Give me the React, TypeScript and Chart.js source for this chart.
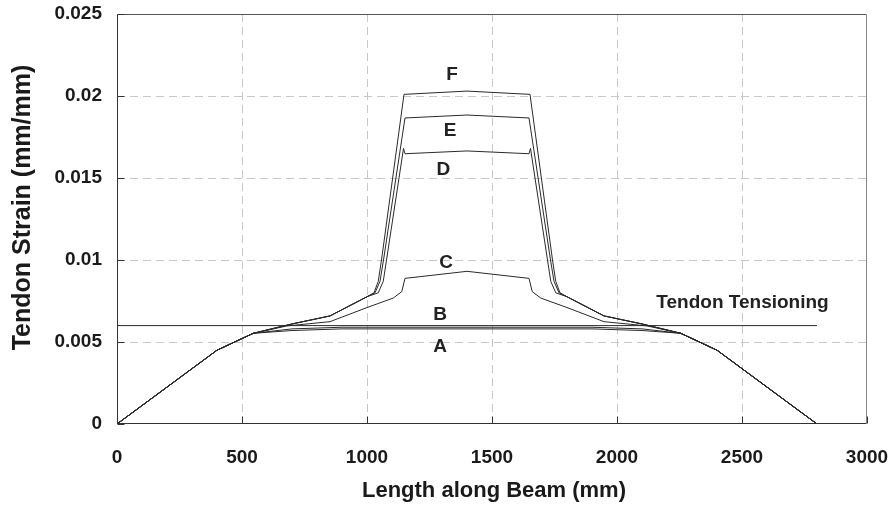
import React, { useEffect, useRef } from 'react';
import { Chart, registerables } from 'chart.js';

Chart.register(...registerables);

// ---- axis ticks ----
const xTickValues = [0, 500, 1000, 1500, 2000, 2500, 3000];
const yTickValues = [0, 0.005, 0.01, 0.015, 0.02, 0.025];

// ---- curves (x: mm along beam, y: strain) ----
const curveAx = [0, 400, 545, 700, 900, 1400, 1900, 2100, 2255, 2400, 2800];
const curveAy = [0, 0.0045, 0.00553, 0.0057, 0.0058, 0.0058, 0.0058, 0.0057, 0.00553, 0.0045, 0];

const curveBx = [0, 400, 545, 700, 900, 1400, 1900, 2100, 2255, 2400, 2800];
const curveBy = [0, 0.0045, 0.00553, 0.0058, 0.0059, 0.0059, 0.0059, 0.0058, 0.00553, 0.0045, 0];

const curveCx = [0, 400, 545, 680, 852, 1000, 1105, 1139, 1152, 1400, 1648, 1661, 1695, 1800, 1948, 2120, 2255, 2400, 2800];
const curveCy = [0, 0.0045, 0.00553, 0.00598, 0.00624, 0.0071, 0.00768, 0.00807, 0.00888, 0.00931, 0.00888, 0.00807, 0.00768, 0.0071, 0.00624, 0.00598, 0.00553, 0.0045, 0];

const curveDx = [0, 400, 545, 700, 852, 1000, 1045, 1065, 1078, 1146, 1152, 1400, 1648, 1654, 1722, 1735, 1755, 1800, 1948, 2100, 2255, 2400, 2800];
const curveDy = [0, 0.0045, 0.00553, 0.0061, 0.00659, 0.00776, 0.0080, 0.0087, 0.0100, 0.0168, 0.01648, 0.01665, 0.01648, 0.0168, 0.0100, 0.0087, 0.0080, 0.00776, 0.00659, 0.0061, 0.00553, 0.0045, 0];

const curveEx = [0, 400, 545, 700, 852, 1000, 1032, 1052, 1066, 1152, 1400, 1648, 1734, 1748, 1768, 1800, 1948, 2100, 2255, 2400, 2800];
const curveEy = [0, 0.0045, 0.00553, 0.0061, 0.00659, 0.00776, 0.0080, 0.0087, 0.0100, 0.01866, 0.01884, 0.01866, 0.0100, 0.0087, 0.0080, 0.00776, 0.00659, 0.0061, 0.00553, 0.0045, 0];

const curveFx = [0, 400, 545, 700, 852, 1000, 1028, 1045, 1058, 1148, 1400, 1652, 1742, 1755, 1772, 1800, 1948, 2100, 2255, 2400, 2800];
const curveFy = [0, 0.0045, 0.00553, 0.0061, 0.00659, 0.00776, 0.0080, 0.0087, 0.0100, 0.0201, 0.0203, 0.0201, 0.0100, 0.0087, 0.0080, 0.00776, 0.00659, 0.0061, 0.00553, 0.0045, 0];

const tendonX = [0, 2800];
const tendonY = [0.006, 0.006];

// ---- curve annotations ----
const labelTexts = ['F', 'E', 'D', 'C', 'B', 'A', 'Tendon Tensioning'];
const labelX = [1340, 1332, 1305, 1316, 1292, 1292, 2502];
const labelY = [0.02128, 0.01787, 0.01553, 0.00986, 0.00665, 0.0047, 0.0074];

const xTitle = 'Length along Beam (mm)';
const yTitle = 'Tendon Strain (mm/mm)';

const FONT = '"Liberation Sans", Arial, sans-serif';

const toPoints = (xs: number[], ys: number[]) => xs.map((v, i) => ({ x: v, y: ys[i] }));

const zeroPad = (s: any) => {
  s.paddingTop = 0;
  s.paddingBottom = 0;
  s.paddingLeft = 0;
  s.paddingRight = 0;
};

const decoPlugin = {
  id: 'deco',
  beforeDatasetsDraw(chart: any) {
    const { ctx, chartArea: a, scales } = chart;
    const xs = scales.x;
    const ys = scales.y;
    ctx.save();
    ctx.strokeStyle = '#c8c8c8';
    ctx.lineWidth = 1;
    ctx.setLineDash([8, 5]);
    xs.ticks.forEach((t: any) => {
      if (t.value <= xs.min || t.value >= xs.max) return;
      const px = Math.round(xs.getPixelForValue(t.value)) + 0.5;
      ctx.beginPath();
      ctx.moveTo(px, a.top);
      ctx.lineTo(px, a.bottom);
      ctx.stroke();
    });
    ys.ticks.forEach((t: any) => {
      if (t.value <= ys.min || t.value >= ys.max) return;
      const py = Math.round(ys.getPixelForValue(t.value)) + 0.5;
      ctx.beginPath();
      ctx.moveTo(a.left, py);
      ctx.lineTo(a.right, py);
      ctx.stroke();
    });
    ctx.restore();
  },
  afterDatasetsDraw(chart: any) {
    const { ctx, chartArea: a, scales } = chart;
    const xs = scales.x;
    const ys = scales.y;
    const L = Math.round(a.left) + 0.5;
    const R = Math.round(a.right) - 0.5;
    const T = Math.round(a.top) + 0.5;
    const B = Math.round(a.bottom) - 0.5;
    ctx.save();
    ctx.setLineDash([]);
    ctx.lineWidth = 1;
    // top & right frame
    ctx.strokeStyle = '#555';
    ctx.beginPath();
    ctx.moveTo(L, T);
    ctx.lineTo(R, T);
    ctx.stroke();
    ctx.strokeStyle = '#888';
    ctx.beginPath();
    ctx.moveTo(R, T);
    ctx.lineTo(R, B);
    ctx.stroke();
    // left & bottom axes
    ctx.strokeStyle = '#333';
    ctx.beginPath();
    ctx.moveTo(L, T);
    ctx.lineTo(L, B);
    ctx.lineTo(R, B);
    ctx.stroke();
    // inner tick marks
    xs.ticks.forEach((t: any) => {
      const px = Math.round(xs.getPixelForValue(t.value)) + 0.5;
      ctx.beginPath();
      ctx.moveTo(px, B);
      ctx.lineTo(px, B - 7);
      ctx.stroke();
    });
    ys.ticks.forEach((t: any) => {
      const py = Math.round(ys.getPixelForValue(t.value)) + 0.5;
      ctx.beginPath();
      ctx.moveTo(L, py);
      ctx.lineTo(L + 7, py);
      ctx.stroke();
    });
    // curve labels
    ctx.fillStyle = '#222';
    ctx.font = `bold 19px ${FONT}`;
    ctx.textAlign = 'center';
    ctx.textBaseline = 'middle';
    labelTexts.forEach((txt, i) => {
      ctx.fillText(txt, xs.getPixelForValue(labelX[i]), ys.getPixelForValue(labelY[i]));
    });
    // axis titles
    ctx.fillStyle = '#1a1a1a';
    ctx.font = `bold 22px ${FONT}`;
    ctx.fillText(xTitle, 494, 491);
    ctx.translate(23.5, 207.5);
    ctx.rotate(-Math.PI / 2);
    ctx.font = `bold 25px ${FONT}`;
    ctx.fillText(yTitle, 0, 0);
    ctx.restore();
  },
};

export default function App() {
  const ref = useRef<HTMLCanvasElement>(null);
  useEffect(() => {
    if (!ref.current) return;
    const line = (xs: number[], ys: number[]) => ({
      data: toPoints(xs, ys),
      showLine: true,
      borderColor: '#2a2a2a',
      borderWidth: 1,
      pointRadius: 0,
      pointHoverRadius: 0,
      fill: false,
      tension: 0,
    });
    const chart = new Chart(ref.current, {
      type: 'scatter',
      data: {
        datasets: [
          line(tendonX, tendonY),
          line(curveAx, curveAy),
          line(curveBx, curveBy),
          line(curveCx, curveCy),
          line(curveDx, curveDy),
          line(curveEx, curveEy),
          line(curveFx, curveFy),
        ],
      },
      options: {
        animation: false,
        responsive: false,
        devicePixelRatio: 1,
        layout: { padding: { top: 14, right: 25, left: 0, bottom: 0 } },
        plugins: { legend: { display: false }, tooltip: { enabled: false } },
        events: [],
        scales: {
          x: {
            type: 'linear',
            min: 0,
            max: 3000,
            afterBuildTicks: (s: any) => {
              s.ticks = xTickValues.map((v) => ({ value: v }));
            },
            afterFit: (s: any) => {
              s.height = 84;
              zeroPad(s);
            },
            grid: { display: false, drawTicks: false },
            border: { display: false },
            ticks: {
              color: '#1a1a1a',
              font: { family: FONT, size: 19, weight: 'bold' },
              padding: 22,
              maxRotation: 0,
              callback: (v: any) => String(v),
            },
          },
          y: {
            type: 'linear',
            min: 0,
            max: 0.025,
            afterBuildTicks: (s: any) => {
              s.ticks = yTickValues.map((v) => ({ value: v }));
            },
            afterFit: (s: any) => {
              s.width = 117;
              zeroPad(s);
            },
            grid: { display: false, drawTicks: false },
            border: { display: false },
            ticks: {
              color: '#1a1a1a',
              font: { family: FONT, size: 19, weight: 'bold' },
              padding: 15,
              callback: (v: any) => String(Number(Number(v).toFixed(4))),
            },
          },
        },
      },
      plugins: [decoPlugin],
    } as any);
    return () => chart.destroy();
  }, []);
  return (
    <div style={{ position: 'absolute', left: 0, top: 0, width: 892, height: 508, background: '#fff' }}>
      <canvas ref={ref} width={892} height={508} style={{ display: 'block' }} />
    </div>
  );
}
